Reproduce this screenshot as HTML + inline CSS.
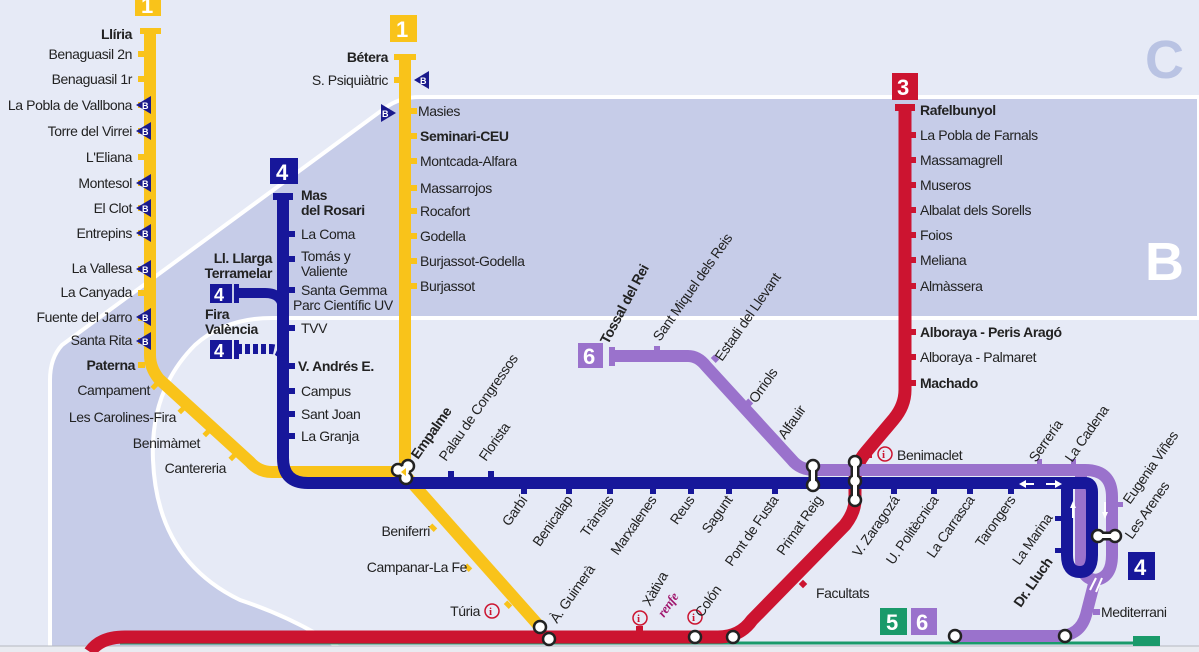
<!DOCTYPE html>
<html><head><meta charset="utf-8"><style>
html,body{margin:0;padding:0;background:#e6eaf6;}
svg{display:block}
text{font-family:"Liberation Sans Narrow","Liberation Sans",sans-serif;font-size:14px;letter-spacing:-0.4px;fill:#222}
.b{font-weight:bold}
.bi{font-family:"Liberation Sans",sans-serif;font-size:9px;font-weight:bold;fill:#fff;letter-spacing:0}
.num{font-family:"Liberation Sans",sans-serif;font-weight:bold;font-size:22px;fill:#fff;letter-spacing:0}
</style></head><body>
<svg width="1199" height="652" viewBox="0 0 1199 652" xmlns="http://www.w3.org/2000/svg">
<rect width="1199" height="652" fill="#e6eaf6"/>
<path d="M1199 97 H420 Q400 97 385 108 L62 345 Q50 358 50 380 V652 H1199 Z" fill="#c6cce8" stroke="#fff" stroke-width="4"/>
<path d="M1199 318 H272 Q225 318 195 345 Q150 390 153 460 Q157 560 240 600 Q300 620 345 652 H1199 Z" fill="#e6eaf6" stroke="#fff" stroke-width="4"/>
<rect x="1150" y="320" width="49" height="332" fill="#e6eaf6"/>
<text x="1145" y="78" style="font-family:'Liberation Sans',sans-serif;font-size:54px;font-weight:bold;fill:#b9c3e3">C</text>
<text x="1145" y="280" style="font-family:'Liberation Sans',sans-serif;font-size:54px;font-weight:bold;fill:#fff">B</text>

<rect x="0" y="646" width="1199" height="6" fill="#e9ebf1"/>
<line x1="0" y1="646" x2="1199" y2="646" stroke="#b5b8c0" stroke-width="1"/>
<line x1="120" y1="643" x2="1135" y2="643" stroke="#1a9a6a" stroke-width="3"/>

<path d="M905 110 V390 Q905 406 893 420 L866 452 Q855 465 855 480 V500 Q855 512 845 525 L752 620 Q740 637 718 637 H125 Q100 637 90 652" fill="none" stroke="#cc1430" stroke-width="13"/>
<rect x="895" y="104" width="20" height="7" fill="#cc1430"/>
<g fill="#cc1430">
<rect x="910" y="132" width="6" height="6"/><rect x="910" y="157" width="6" height="6"/><rect x="910" y="182" width="6" height="6"/><rect x="910" y="207" width="6" height="6"/><rect x="910" y="232" width="6" height="6"/><rect x="910" y="257" width="6" height="6"/><rect x="910" y="283" width="6" height="6"/><rect x="910" y="329" width="6" height="6"/><rect x="910" y="354" width="6" height="6"/><rect x="910" y="380" width="6" height="6"/>
<rect x="866" y="452" width="6" height="6"/>
<rect x="636" y="626" width="7" height="6"/>
<rect x="800" y="581" width="6" height="6" transform="rotate(45 803 584)"/>
</g>
<rect x="892" y="73" width="26" height="27" fill="#cc1430"/><text x="897" y="95" class="num">3</text>

<path d="M150 31 V355 Q150 368 159 379 L250 462 Q259 472 272 472 H405 V57" fill="none" stroke="#f9c31a" stroke-width="12"/>
<path d="M405 475 L540 627" fill="none" stroke="#f9c31a" stroke-width="12"/>
<rect x="140" y="28" width="21" height="6" fill="#f9c31a"/>
<rect x="394" y="54" width="22" height="6" fill="#f9c31a"/>
<g fill="#f9c31a">
<rect x="138" y="51" width="7" height="6"/><rect x="138" y="76" width="7" height="6"/><rect x="138" y="102" width="7" height="6"/><rect x="138" y="128" width="7" height="6"/><rect x="138" y="154" width="7" height="6"/><rect x="138" y="180" width="7" height="6"/><rect x="138" y="205" width="7" height="6"/><rect x="138" y="230" width="7" height="6"/><rect x="138" y="266" width="7" height="6"/><rect x="138" y="290" width="7" height="6"/><rect x="138" y="315" width="7" height="6"/><rect x="138" y="338" width="7" height="6"/><rect x="138" y="362" width="7" height="6"/>
<rect x="394" y="77" width="7" height="6"/>
<rect x="410" y="108" width="7" height="6"/><rect x="410" y="133" width="7" height="6"/><rect x="410" y="158" width="7" height="6"/><rect x="410" y="185" width="7" height="6"/><rect x="410" y="208" width="7" height="6"/><rect x="410" y="233" width="7" height="6"/><rect x="410" y="258" width="7" height="6"/><rect x="410" y="283" width="7" height="6"/>
<rect x="151" y="384" width="7" height="5" transform="rotate(-45 154 386)"/>
<rect x="178" y="408" width="7" height="5" transform="rotate(-45 181 410)"/>
<rect x="203" y="431" width="7" height="5" transform="rotate(-45 206 433)"/>
<rect x="229" y="455" width="7" height="5" transform="rotate(-45 232 457)"/>
<rect x="430" y="525" width="7" height="5" transform="rotate(45 433 527)"/>
<rect x="465" y="565" width="7" height="5" transform="rotate(45 468 567)"/>
<rect x="505" y="602" width="7" height="5" transform="rotate(45 508 604)"/>
</g>
<rect x="135" y="0" width="26" height="16" fill="#f9c31a"/><text x="141" y="13" class="num">1</text>
<rect x="390" y="15" width="27" height="27" fill="#f9c31a"/><text x="396" y="37" class="num">1</text>

<path d="M612 356 H688 Q698 356 706 366 L792 460 Q800 470 815 470 H1085 Q1112 470 1112 497 V555 Q1112 578 1095 580 L1086 615 Q1080 636 1058 636 H955" fill="none" stroke="#9a72cc" stroke-width="12"/>
<path d="M1081 470 V560 Q1081 578 1095 580" fill="none" stroke="#9a72cc" stroke-width="12"/>
<rect x="609" y="347" width="6" height="19" fill="#9a72cc"/>
<g fill="#9a72cc">
<rect x="654" y="346" width="6" height="6"/>
<rect x="712" y="356" width="7" height="5" transform="rotate(45 715 358)"/>
<rect x="746" y="400" width="7" height="5" transform="rotate(45 749 402)"/>
<rect x="774" y="436" width="7" height="5" transform="rotate(45 777 438)"/>
<rect x="1037" y="459" width="5" height="6"/><rect x="1071" y="459" width="5" height="6"/>
<rect x="1117" y="502" width="6" height="5"/>
<rect x="1093" y="609" width="7" height="6"/>
</g>
<rect x="578" y="343" width="25" height="25" fill="#9a72cc"/><text x="583" y="364" class="num">6</text>

<path d="M283 196 V458 Q283 483 308 483 H1085 Q1092 483 1092 492 V555 Q1092 572 1080 572 Q1067 572 1067 555 V483" fill="none" stroke="#17179a" stroke-width="12"/>
<rect x="273" y="193" width="20" height="7" fill="#17179a"/>
<g fill="#17179a">
<rect x="288" y="231" width="7" height="6"/><rect x="288" y="256" width="7" height="6"/><rect x="288" y="287" width="7" height="6"/><rect x="288" y="325" width="7" height="6"/><rect x="288" y="363" width="7" height="6"/><rect x="288" y="388" width="7" height="6"/><rect x="288" y="411" width="7" height="6"/><rect x="288" y="433" width="7" height="6"/>
<rect x="448" y="471" width="6" height="6"/><rect x="488" y="471" width="6" height="6"/>
<rect x="521" y="488" width="6" height="6"/><rect x="566" y="488" width="6" height="6"/><rect x="607" y="488" width="6" height="6"/><rect x="650" y="488" width="6" height="6"/><rect x="688" y="488" width="6" height="6"/><rect x="726" y="488" width="6" height="6"/><rect x="772" y="488" width="6" height="6"/>
<rect x="891" y="488" width="6" height="6"/><rect x="931" y="488" width="6" height="6"/><rect x="967" y="488" width="6" height="6"/><rect x="1008" y="488" width="6" height="6"/>
<rect x="1055" y="516" width="6" height="5"/><rect x="1055" y="548" width="6" height="5"/>
</g>
<path d="M237 293 H265 Q283 293 283 310" fill="none" stroke="#17179a" stroke-width="10"/>
<rect x="234" y="284" width="5" height="19" fill="#17179a"/>
<path d="M237 349 H270 Q283 349 283 362" fill="none" stroke="#17179a" stroke-width="10" stroke-dasharray="5 3"/>
<rect x="234" y="340" width="5" height="19" fill="#17179a"/>
<rect x="270" y="158" width="28" height="26" fill="#17179a"/><text x="276" y="180" class="num">4</text>
<rect x="210" y="284" width="22" height="19" fill="#17179a"/><text x="214" y="301" class="num" style="font-size:18px">4</text>
<rect x="210" y="340" width="22" height="19" fill="#17179a"/><text x="214" y="357" class="num" style="font-size:18px">4</text>
<rect x="1128" y="552" width="27" height="28" fill="#17179a"/><text x="1134" y="575" class="num">4</text>

<g stroke="#fff" stroke-width="2" fill="#fff">
<line x1="1023" y1="484" x2="1034" y2="484"/><line x1="1046" y1="484" x2="1058" y2="484"/>
<polygon points="1019,484 1026,480 1026,488" stroke="none"/><polygon points="1062,484 1055,480 1055,488" stroke="none"/>
<line x1="1073" y1="505" x2="1073" y2="518"/><polygon points="1073,501 1070,508 1076,508" stroke="none"/>
<line x1="1105" y1="502" x2="1105" y2="515"/><polygon points="1105,519 1102,512 1108,512" stroke="none"/>
<line x1="1096" y1="578" x2="1090" y2="590"/><line x1="1102" y1="578" x2="1096" y2="592"/>
</g>

<!-- interchanges -->
<g stroke="#222" stroke-width="9" stroke-linecap="round">
<line x1="813" y1="466" x2="813" y2="485"/>
<line x1="855" y1="462" x2="855" y2="500"/>
<line x1="1098" y1="536" x2="1115" y2="536"/>
</g>
<g fill="#fff" stroke="#222" stroke-width="2.5">
<circle cx="813" cy="466" r="6"/><circle cx="813" cy="485" r="6"/>
<circle cx="855" cy="462" r="6"/><circle cx="855" cy="481" r="6"/><circle cx="855" cy="500" r="6"/>
<circle cx="1098" cy="536" r="6"/><circle cx="1115" cy="536" r="6"/>
<circle cx="540" cy="627" r="6"/><circle cx="549" cy="639" r="6"/>
<circle cx="695" cy="637" r="6"/><circle cx="733" cy="637" r="6"/>
<circle cx="955" cy="636" r="6"/><circle cx="1065" cy="636" r="6"/>
</g>
<g stroke="#fff" stroke-width="4" stroke-linecap="round">
<line x1="813" y1="466" x2="813" y2="485"/>
<line x1="855" y1="462" x2="855" y2="500"/>
<line x1="1098" y1="536" x2="1115" y2="536"/>
</g>
<g fill="#fff" stroke="#222" stroke-width="2.5">
<circle cx="398" cy="470" r="6"/><circle cx="408" cy="466" r="6"/><circle cx="406" cy="478" r="6"/>
</g>
<g fill="#fff"><circle cx="398" cy="470" r="4.5"/><circle cx="408" cy="466" r="4.5"/><circle cx="406" cy="478" r="4.5"/><circle cx="404" cy="471" r="5"/></g>
<polygon points="401,472 406,468 406,476" fill="#f9c31a"/>

<g fill="#1a1a8c">
<polygon points="136,105 151,96 151,114"/><polygon points="136,131 151,122 151,140"/><polygon points="136,183 151,174 151,192"/><polygon points="136,208 151,199 151,217"/><polygon points="136,233 151,224 151,242"/><polygon points="136,269 151,260 151,278"/><polygon points="136,317 151,308 151,326"/><polygon points="136,341 151,332 151,350"/>
<polygon points="414,80 429,71 429,89"/><polygon points="396,113 381,104 381,122"/>
</g>
<g>
<text class="bi" x="142" y="109">B</text><text class="bi" x="142" y="135">B</text><text class="bi" x="142" y="187">B</text><text class="bi" x="142" y="212">B</text><text class="bi" x="142" y="237">B</text><text class="bi" x="142" y="273">B</text><text class="bi" x="142" y="321">B</text><text class="bi" x="142" y="345">B</text><text class="bi" x="420" y="84">B</text><text class="bi" x="382" y="117">B</text>
</g>

<g fill="none" stroke="#cc1430" stroke-width="1.5">
<circle cx="492" cy="611" r="7"/><circle cx="640" cy="618" r="7"/><circle cx="695" cy="617" r="7"/><circle cx="885" cy="454" r="7"/>
</g>
<text x="489" y="615" style="fill:#cc1430;font-family:'Liberation Serif',serif;font-size:11px;font-weight:bold">i</text>
<text x="637" y="622" style="fill:#cc1430;font-family:'Liberation Serif',serif;font-size:11px;font-weight:bold">i</text>
<text x="692" y="621" style="fill:#cc1430;font-family:'Liberation Serif',serif;font-size:11px;font-weight:bold">i</text>
<text x="882" y="458" style="fill:#cc1430;font-family:'Liberation Serif',serif;font-size:11px;font-weight:bold">i</text>

<rect x="880" y="608" width="27" height="27" fill="#1a9a6a"/><text x="886" y="630" class="num">5</text>
<rect x="911" y="608" width="26" height="27" fill="#9a72cc"/><text x="916" y="630" class="num">6</text>
<rect x="1133" y="636" width="27" height="10" fill="#1a9a6a"/>

<g text-anchor="end">
<text x="132" y="39" class="b">Llíria</text>
<text x="132" y="59">Benaguasil  2n</text>
<text x="132" y="84">Benaguasil  1r</text>
<text x="132" y="110">La Pobla de Vallbona</text>
<text x="132" y="136">Torre del Virrei</text>
<text x="132" y="162">L'Eliana</text>
<text x="132" y="188">Montesol</text>
<text x="132" y="213">El Clot</text>
<text x="132" y="238">Entrepins</text>
<text x="132" y="273">La Vallesa</text>
<text x="132" y="297">La Canyada</text>
<text x="132" y="322">Fuente del Jarro</text>
<text x="132" y="345">Santa Rita</text>
<text x="135" y="370" class="b">Paterna</text>
<text x="150" y="395">Campament</text>
<text x="176" y="422">Les Carolines-Fira</text>
<text x="200" y="448">Benimàmet</text>
<text x="226" y="473">Cantereria</text>
<text x="388" y="62" class="b">Bétera</text>
<text x="388" y="85">S. Psiquiàtric</text>
<text x="272" y="263" class="b">Ll. Llarga</text>
<text x="272" y="278" class="b">Terramelar</text>
<text x="430" y="536">Beniferri</text>
<text x="467" y="572">Campanar-La Fe</text>
<text x="480" y="616">Túria</text>
</g>
<text x="205" y="319" class="b">Fira</text>
<text x="205" y="334" class="b">València</text>

<g>
<text x="418" y="116">Masies</text>
<text x="420" y="141" class="b">Seminari-CEU</text>
<text x="420" y="166">Montcada-Alfara</text>
<text x="420" y="193">Massarrojos</text>
<text x="420" y="216">Rocafort</text>
<text x="420" y="241">Godella</text>
<text x="420" y="266">Burjassot-Godella</text>
<text x="420" y="291">Burjassot</text>
<text x="301" y="200" class="b">Mas</text>
<text x="301" y="215" class="b">del Rosari</text>
<text x="301" y="239">La Coma</text>
<text x="301" y="261">Tomás y</text>
<text x="301" y="276">Valiente</text>
<text x="301" y="295">Santa Gemma</text>
<text x="293" y="310">Parc Científic UV</text>
<text x="301" y="333">TVV</text>
<text x="298" y="371" class="b">V. Andrés E.</text>
<text x="301" y="396">Campus</text>
<text x="301" y="419">Sant Joan</text>
<text x="301" y="441">La Granja</text>
<text x="920" y="115" class="b">Rafelbunyol</text>
<text x="920" y="140">La Pobla de Farnals</text>
<text x="920" y="165">Massamagrell</text>
<text x="920" y="190">Museros</text>
<text x="920" y="215">Albalat dels Sorells</text>
<text x="920" y="240">Foios</text>
<text x="920" y="265">Meliana</text>
<text x="920" y="291">Almàssera</text>
<text x="920" y="337" class="b">Alboraya - Peris Aragó</text>
<text x="920" y="362">Alboraya - Palmaret</text>
<text x="920" y="388" class="b">Machado</text>
<text x="897" y="460">Benimaclet</text>
<text x="816" y="598">Facultats</text>
<text x="1101" y="617">Mediterrani</text>
</g>

<g>
<text transform="translate(418,460) rotate(-55)" class="b">Empalme</text>
<text transform="translate(446,462) rotate(-55)">Palau de Congressos</text>
<text transform="translate(486,462) rotate(-55)">Florista</text>
<text transform="translate(608,345) rotate(-62)" class="b">Tossal del Rei</text>
<text transform="translate(660,342) rotate(-55)">Sant Miquel dels Reis</text>
<text transform="translate(722,362) rotate(-55)">Estadi del Llevant</text>
<text transform="translate(756,404) rotate(-55)">Orriols</text>
<text transform="translate(785,440) rotate(-55)">Alfauir</text>
<text transform="translate(1036,463) rotate(-55)">Serrería</text>
<text transform="translate(1072,463) rotate(-55)">La Cadena</text>
<text transform="translate(1130,505) rotate(-55)">Eugenia Viñes</text>
<text transform="translate(1132,540) rotate(-55)">Les Arenes</text>
<text transform="translate(557,624) rotate(-55)">À. Guimerà</text>
<text transform="translate(650,607) rotate(-60)">Xàtiva</text>
<text transform="translate(664,618) rotate(-55)" style="font-family:'Liberation Serif',serif;font-style:italic;font-weight:bold;font-size:13px;fill:#a0186e">renfe</text>
<text transform="translate(702,618) rotate(-55)">Colón</text>
</g>
<g text-anchor="end">
<text transform="translate(528,500) rotate(-55)">Garbí</text>
<text transform="translate(573,500) rotate(-55)">Benicalap</text>
<text transform="translate(614,500) rotate(-55)">Trànsits</text>
<text transform="translate(657,500) rotate(-55)">Marxalenes</text>
<text transform="translate(695,500) rotate(-55)">Reus</text>
<text transform="translate(733,500) rotate(-55)">Sagunt</text>
<text transform="translate(779,500) rotate(-55)">Pont de Fusta</text>
<text transform="translate(823,500) rotate(-55)">Primat Reig</text>
<text transform="translate(900,500) rotate(-55)">V. Zaragozá</text>
<text transform="translate(939,500) rotate(-55)">U. Politècnica</text>
<text transform="translate(975,500) rotate(-55)">La Carrasca</text>
<text transform="translate(1016,500) rotate(-55)">Tarongers</text>
<text transform="translate(1053,518) rotate(-55)">La Marina</text>
<text transform="translate(1053,562) rotate(-55)" class="b">Dr. Lluch</text>
</g>
</svg>
</body></html>
